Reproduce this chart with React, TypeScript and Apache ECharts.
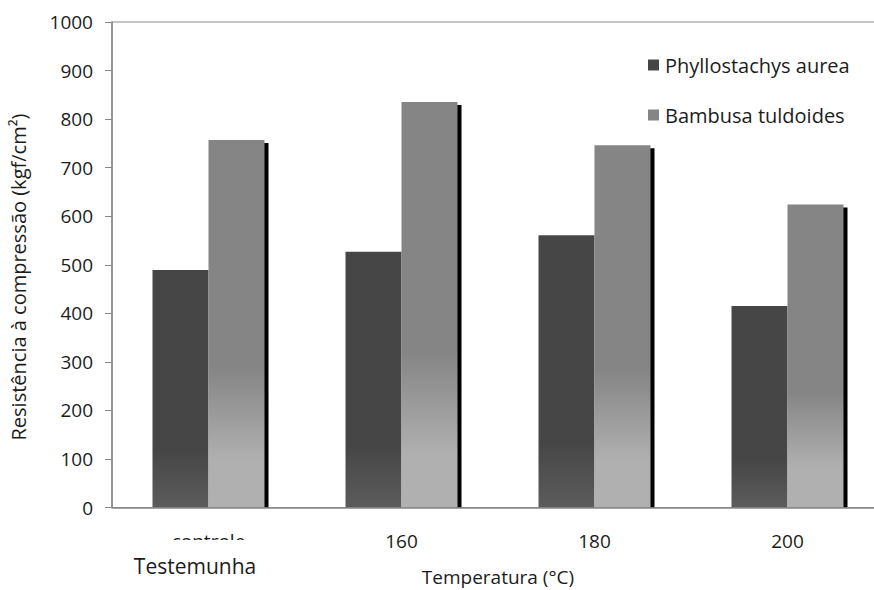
import React, { useEffect, useRef } from "react";
import * as echarts from "echarts";

// Temperature treatments (first one is the untreated control)
const categories = ["controle", "160", "180", "200"];
// Compression strength, kgf/cm²
const phyllostachys = [489, 527, 561, 415];
const bambusa = [757, 835, 746, 624];
const seriesNames = ["Phyllostachys aurea", "Bambusa tuldoides"];

const FONT = "'Open Sans', 'DejaVu Sans', sans-serif";
const TEXT = "#1c1c1c";
const AXIS = "#868686";

export default function App() {
  const ref = useRef<HTMLDivElement>(null);

  useEffect(() => {
    if (!ref.current) return;
    const chart = echarts.init(ref.current, null, { renderer: "svg" });

    const darkFill = new echarts.graphic.LinearGradient(0, 0, 0, 1, [
      { offset: 0, color: "#464646" },
      { offset: 0.76, color: "#464646" },
      { offset: 1, color: "#5c5c5c" },
    ]);
    const lightFill = new echarts.graphic.LinearGradient(0, 0, 0, 1, [
      { offset: 0, color: "#858585" },
      { offset: 0.62, color: "#858585" },
      { offset: 0.87, color: "#b0b0b0" },
      { offset: 1, color: "#b0b0b0" },
    ]);

    chart.setOption({
      animation: false,
      backgroundColor: "#ffffff",
      grid: {
        left: 112,
        top: 22,
        width: 772,
        bottom: 82.5,
        outerBoundsMode: "none",
        containLabel: false,
        show: true,
        borderColor: "#8c8c8c",
        borderWidth: 1,
        backgroundColor: "transparent",
      },
      legend: {
        orient: "vertical",
        left: 648,
        top: 55,
        padding: 0,
        itemWidth: 11,
        itemHeight: 11,
        itemGap: 30,
        icon: "rect",
        textStyle: {
          fontFamily: FONT,
          fontSize: 20,
          lineHeight: 20,
          color: TEXT,
          padding: [0, 0, 0, 1],
        },
        data: [
          { name: seriesNames[0], itemStyle: { color: "#464646" } },
          { name: seriesNames[1], itemStyle: { color: "#858585" } },
        ],
      },
      xAxis: {
        type: "category",
        data: categories,
        axisLine: { show: true, lineStyle: { color: AXIS, width: 1.5 } },
        axisTick: { show: false },
        axisLabel: { fontFamily: FONT, fontSize: 19, color: TEXT, margin: 24 },
        name: "Temperatura (°C)",
        nameLocation: "middle",
        nameGap: 60,
        nameTextStyle: { fontFamily: FONT, fontSize: 19, color: TEXT },
        z: 5,
      },
      yAxis: {
        type: "value",
        min: 0,
        max: 1000,
        interval: 100,
        axisLine: { show: true, lineStyle: { color: AXIS, width: 1.5 } },
        axisTick: { show: true, inside: false, length: 7, lineStyle: { color: AXIS } },
        axisLabel: {
          fontFamily: FONT,
          fontSize: 19,
          color: TEXT,
          margin: 19,
          formatter: (v: number) => String(v),
        },
        splitLine: { show: false },
      },
      series: [
        {
          name: seriesNames[0],
          type: "bar",
          data: phyllostachys,
          barWidth: 56,
          barGap: "0%",
          itemStyle: { color: darkFill },
          z: 3,
        },
        {
          name: seriesNames[1],
          type: "bar",
          data: bambusa,
          barWidth: 56,
          barGap: "0%",
          itemStyle: { color: lightFill },
          z: 3,
        },
        {
          // drop shadow on the right side of the Bambusa bars
          name: "sombra",
          type: "custom",
          data: bambusa.map((v, i) => [i, v]),
          encode: { x: 0, y: 1 },
          z: 2,
          renderItem: (params: any, api: any) => {
            const cat = api.value(0);
            const v = api.value(1);
            const top = api.coord([cat, v]);
            const base = api.coord([cat, 0]);
            return {
              type: "rect",
              shape: { x: top[0] + 55, y: top[1] + 3, width: 5, height: base[1] - top[1] - 3 },
              style: { fill: "#000000" },
            };
          },
        },
      ],
      graphic: [
        {
          type: "text",
          x: 18,
          y: 277,
          rotation: Math.PI / 2,
          style: {
            text: "Resistência à compressão (kgf/cm²)",
            fontFamily: FONT,
            fontSize: 20,
            fill: TEXT,
            align: "center",
            verticalAlign: "middle",
          },
        },
        {
          // text box overlapping the lower part of the control label
          type: "rect",
          shape: { x: 135, y: 540, width: 140, height: 14 },
          style: { fill: "#ffffff" },
          z: 100,
        },
        {
          type: "text",
          x: 195,
          y: 566,
          z: 101,
          style: {
            text: "Testemunha",
            fontFamily: FONT,
            fontSize: 21,
            fill: TEXT,
            align: "center",
            verticalAlign: "middle",
          },
        },
      ],
    });

    return () => chart.dispose();
  }, []);

  return (
    <div
      ref={ref}
      style={{ position: "fixed", left: 0, top: 0, width: 874, height: 590, overflow: "hidden" }}
    />
  );
}
